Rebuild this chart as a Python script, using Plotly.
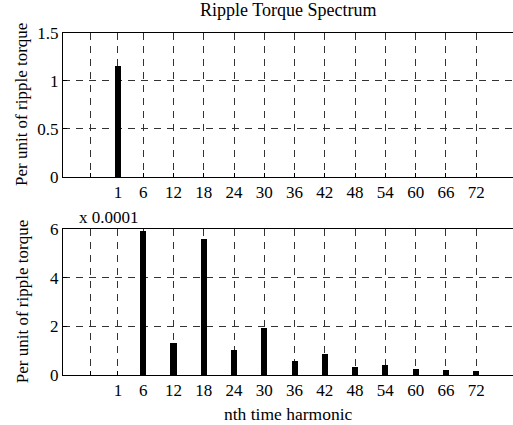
import plotly.graph_objects as go

# Data
fund_harmonic = [1]
fund_value = [1.16]                      # per unit
harmonics = [6, 12, 18, 24, 30, 36, 42, 48, 54, 60, 66, 72]
ripple_e4 = [5.9, 1.32, 5.6, 1.02, 1.94, 0.58, 0.85, 0.33, 0.39, 0.22, 0.18, 0.15]  # x 1e-4 per unit
xtick_vals = [-4.5, 1, 6, 12, 18, 24, 30, 36, 42, 48, 54, 60, 66, 72]
xtick_text = ["", "1", "6", "12", "18", "24", "30", "36", "42", "48", "54", "60", "66", "72"]

FONT = "Liberation Serif"
TICK = dict(family=FONT, size=17, color="black")
fig = go.Figure()
fig.add_trace(go.Bar(x=fund_harmonic, y=fund_value, width=1.0, marker=dict(color="black", line=dict(width=0)),
                     xaxis="x", yaxis="y", showlegend=False))
fig.add_trace(go.Bar(x=harmonics, y=ripple_e4, width=1.2, marker=dict(color="black", line=dict(width=0)),
                     xaxis="x2", yaxis="y2", showlegend=False))

xcommon = dict(range=[-9.9, 79.3], tickvals=xtick_vals, ticktext=xtick_text, showgrid=True,
               gridcolor="#333", griddash="7px,6px", gridwidth=1, zeroline=False,
               showline=True, linecolor="black", linewidth=1, mirror=True,
               ticks="inside", ticklen=4, tickcolor="black", tickfont=TICK)
ycommon = dict(showgrid=True, gridcolor="#333", griddash="7px,6px", gridwidth=1, zeroline=False,
               showline=True, linecolor="black", linewidth=1, mirror=True,
               ticks="inside", ticklen=4, tickcolor="black", tickfont=TICK)

top_dom = [0.579, 1.0]
bot_dom = [0.0, 0.426]
fig.update_layout(
    width=513, height=425,
    margin=dict(l=63, r=0, t=33, b=50),
    paper_bgcolor="white", plot_bgcolor="white",
    font=dict(family=FONT, size=17, color="black"),
    bargap=0,
    xaxis=dict(**xcommon, domain=[0, 1], anchor="y"),
    yaxis=dict(**ycommon, domain=top_dom, anchor="x", range=[0, 1.5],
               tickvals=[0, 0.5, 1, 1.5], ticktext=["0", "0.5", "1", "1.5"]),
    xaxis2=dict(**xcommon, domain=[0, 1], anchor="y2"),
    yaxis2=dict(**ycommon, domain=bot_dom, anchor="x2", range=[0, 6],
                tickvals=[0, 2, 4, 6]),
    annotations=[
        dict(text="Ripple Torque Spectrum", x=0.5, y=1, xref="paper", yref="paper",
             xanchor="center", yanchor="bottom", yshift=11, showarrow=False,
             font=dict(family=FONT, size=18)),
        dict(text="x 0.0001", x=0.03, y=bot_dom[1], xref="paper", yref="paper",
             xanchor="left", yanchor="bottom", yshift=0, showarrow=False,
             font=dict(family=FONT, size=17)),
        dict(text="nth time harmonic", x=0.5, y=0, xref="paper", yref="paper",
             xanchor="center", yanchor="top", yshift=-27, showarrow=False,
             font=dict(family=FONT, size=17.5)),
        dict(text="Per unit of ripple torque", x=0, y=(top_dom[0] + top_dom[1]) / 2, xref="paper", yref="paper",
             xanchor="center", yanchor="middle", xshift=-41, textangle=-90, showarrow=False,
             font=dict(family=FONT, size=17)),
        dict(text="Per unit of ripple torque", x=0, y=(bot_dom[0] + bot_dom[1]) / 2, xref="paper", yref="paper",
             xanchor="center", yanchor="middle", xshift=-41, textangle=-90, showarrow=False,
             font=dict(family=FONT, size=17)),
    ],
)
fig.write_html("out.html")
